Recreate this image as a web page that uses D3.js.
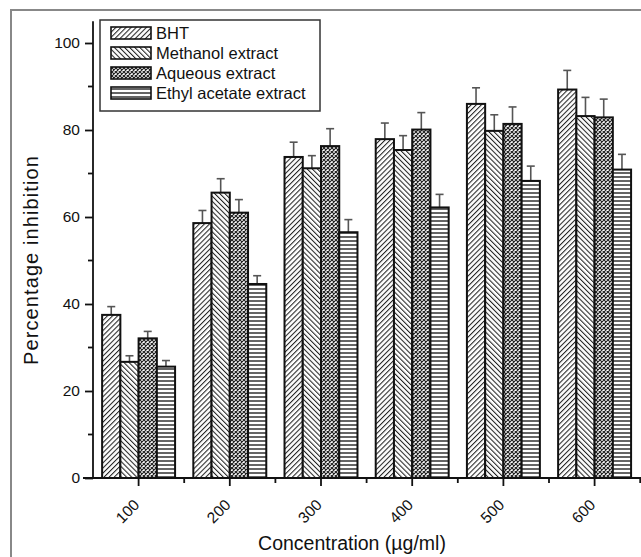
<!DOCTYPE html>
<html>
<head>
<meta charset="utf-8">
<script src="https://cdn.jsdelivr.net/npm/d3@7"></script>
<style>
html,body{margin:0;padding:0;background:#fff;}
svg{display:block;font-family:"Liberation Sans",Arial,sans-serif;}
</style>
</head>
<body>
<svg id="chart" width="641" height="557"></svg>
<script>
const categories = ["100","200","300","400","500","600"];
const seriesNames = ["BHT","Methanol extract","Aqueous extract","Ethyl acetate extract"];
const bhtValues      = [37.5, 58.6, 73.8, 77.9, 86.0, 89.3];
const methanolValues = [26.7, 65.6, 71.2, 75.4, 79.8, 83.2];
const aqueousValues  = [32.1, 61.0, 76.3, 80.1, 81.4, 82.9];
const ethylValues    = [25.6, 44.6, 56.5, 62.2, 68.3, 70.9];
const bhtErr      = [1.9, 2.9, 3.4, 3.7, 3.7, 4.4];
const methanolErr = [1.4, 3.2, 2.9, 3.3, 3.7, 4.3];
const aqueousErr  = [1.6, 3.0, 4.0, 3.9, 3.9, 4.2];
const ethylErr    = [1.4, 1.9, 2.9, 3.0, 3.4, 3.5];
const yTicks = [0, 20, 40, 60, 80, 100];

const values = [bhtValues, methanolValues, aqueousValues, ethylValues];
const errs = [bhtErr, methanolErr, aqueousErr, ethylErr];
const patternIds = ["pBHT","pMeth","pAq","pEthyl"];

const svg = d3.select("#chart");
const defs = svg.append("defs");

// patterns
const p1 = defs.append("pattern").attr("id","pBHT").attr("patternUnits","userSpaceOnUse")
  .attr("width",3.6).attr("height",10).attr("patternTransform","rotate(45)");
p1.append("rect").attr("width",3.6).attr("height",10).attr("fill","#fff");
p1.append("line").attr("x1",0.5).attr("y1",0).attr("x2",0.5).attr("y2",10).attr("stroke","#222").attr("stroke-width",1.1);

const p2 = defs.append("pattern").attr("id","pMeth").attr("patternUnits","userSpaceOnUse")
  .attr("width",3.6).attr("height",10).attr("patternTransform","rotate(-45)");
p2.append("rect").attr("width",3.6).attr("height",10).attr("fill","#fff");
p2.append("line").attr("x1",0.5).attr("y1",0).attr("x2",0.5).attr("y2",10).attr("stroke","#222").attr("stroke-width",1.1);

const p3 = defs.append("pattern").attr("id","pAq").attr("patternUnits","userSpaceOnUse")
  .attr("width",4).attr("height",4);
p3.append("rect").attr("width",4).attr("height",4).attr("fill","#fff");
p3.append("path").attr("d","M0,0L4,4M4,0L0,4").attr("stroke","#222").attr("stroke-width",1.2);

const p4 = defs.append("pattern").attr("id","pEthyl").attr("patternUnits","userSpaceOnUse")
  .attr("width",10).attr("height",4);
p4.append("rect").attr("width",10).attr("height",4).attr("fill","#fff");
p4.append("line").attr("x1",0).attr("y1",1).attr("x2",10).attr("y2",1).attr("stroke","#222").attr("stroke-width",1.4);

// frame
svg.append("path").attr("d","M11,557V10H641").attr("fill","none").attr("stroke","#888").attr("stroke-width",2);

const left = 93, right = 641, bottom = 478;
const x = d3.scaleBand().domain(categories).range([left, left + 91.2*6]).paddingInner(0.2).paddingOuter(0.1);
const xOuter = d3.scaleBand().domain(categories).range([left, left + 91.2*6]).padding(0);
const y = d3.scaleLinear().domain([0,105]).range([bottom, bottom - 105*4.35]);
const xs = d3.scaleBand().domain(seriesNames).range([0, x.bandwidth()]).padding(0);

// bars
const clip = defs.append("clipPath").attr("id","clip");
clip.append("rect").attr("x",left).attr("y",0).attr("width",right-left).attr("height",bottom);

const plot = svg.append("g").attr("clip-path","url(#clip)");
seriesNames.forEach((s, si) => {
  const g = plot.append("g");
  categories.forEach((c, ci) => {
    const v = values[si][ci], e = errs[si][ci];
    const bx = x(c) + xs(s), bw = xs.bandwidth();
    const cx = bx + bw/2;
    g.append("line").attr("x1",cx).attr("x2",cx).attr("y1",y(v)).attr("y2",y(v+e))
      .attr("stroke","#555").attr("stroke-width",1.6);
    g.append("line").attr("x1",cx-4).attr("x2",cx+4).attr("y1",y(v+e)).attr("y2",y(v+e))
      .attr("stroke","#555").attr("stroke-width",1.6);
    g.append("rect").attr("x",bx).attr("y",y(v)).attr("width",bw).attr("height",y(0)-y(v))
      .attr("fill","url(#"+patternIds[si]+")").attr("stroke","#111").attr("stroke-width",2);
  });
});

// y axis
const yMinor = d3.range(10, 105, 20);
const yAxisG = svg.append("g").attr("transform",`translate(${left},0)`);
yAxisG.call(d3.axisLeft(y).tickValues(yTicks).tickSize(8).tickPadding(5).tickFormat(d3.format("d")));
yAxisG.selectAll("line,path").attr("stroke","#111").attr("stroke-width",1.8);
yAxisG.select(".domain").attr("d",`M0,${y(105)}V${bottom}`);
yAxisG.selectAll("text").attr("font-size",15.5).attr("fill","#111").attr("font-family","Liberation Sans, Arial, sans-serif");
yAxisG.selectAll(".minor").data(yMinor).enter().append("line").attr("class","minor")
  .attr("x1",0).attr("x2",-5).attr("y1",d=>y(d)).attr("y2",d=>y(d)).attr("stroke","#111").attr("stroke-width",1.8);

// x axis
const xAxisG = svg.append("g").attr("transform",`translate(0,${bottom})`);
xAxisG.append("line").attr("x1",left-10).attr("x2",right).attr("y1",0).attr("y2",0).attr("stroke","#111").attr("stroke-width",2);
categories.forEach(c => {
  const cx = x(c) + x.bandwidth()/2;
  xAxisG.append("line").attr("x1",cx).attr("x2",cx).attr("y1",0).attr("y2",8).attr("stroke","#111").attr("stroke-width",1.8);
  const bx = xOuter(c) + xOuter.bandwidth();
  xAxisG.append("line").attr("x1",bx).attr("x2",bx).attr("y1",0).attr("y2",5).attr("stroke","#111").attr("stroke-width",1.8);
  xAxisG.append("text").attr("transform",`translate(${cx-2},${24}) rotate(-45)`)
    .attr("text-anchor","end").attr("dy","0.35em").attr("font-size",15.5).attr("fill","#111").text(c);
});

// axis titles
svg.append("text").attr("x",352).attr("y",550).attr("text-anchor","middle")
  .attr("font-size",19.5).attr("fill","#111").text("Concentration (µg/ml)");
svg.append("text").attr("transform","translate(38,260) rotate(-90)").attr("text-anchor","middle")
  .attr("font-size",20).attr("letter-spacing",1.1).attr("fill","#111").text("Percentage inhibition");

// legend
const lg = svg.append("g");
lg.append("rect").attr("x",100).attr("y",20).attr("width",220).attr("height",91)
  .attr("fill","#fff").attr("stroke","#333").attr("stroke-width",1.5);
seriesNames.forEach((s, i) => {
  const cy = 33 + i*20;
  lg.append("rect").attr("x",111).attr("y",cy-6).attr("width",40).attr("height",12)
    .attr("fill","url(#"+patternIds[i]+")").attr("stroke","#111").attr("stroke-width",1.6);
  lg.append("text").attr("x",156).attr("y",cy).attr("dy","0.36em").attr("font-size",16.5).attr("fill","#111").text(s);
});
</script>
</body>
</html>
